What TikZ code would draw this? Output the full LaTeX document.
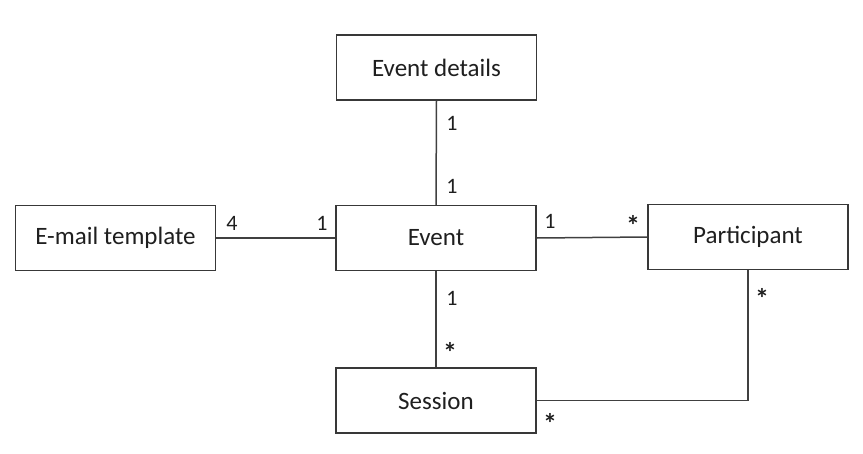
\documentclass[tikz,border=0pt]{standalone}
\usepackage{fontspec}
\setmainfont{Carlito}
\begin{document}
\begin{tikzpicture}[x=1pt,y=-1pt,
  cls/.style={draw=black!78, line width=1.4pt, fill=white, minimum width=200pt, minimum height=65pt, inner sep=0pt, font=\fontsize{25}{29}\selectfont, text=black!88},
  conn/.style={draw=black!75, line width=1.5pt},
  mult/.style={anchor=base, inner sep=0pt, font=\fontsize{22}{26}\selectfont, text=black!88},
  star/.style={anchor=base, inner sep=0pt, font=\fontsize{28}{32}\bfseries\selectfont, text=black!88}]
\useasboundingbox (0,0) rectangle (863,453);
\node[cls] (details) at (436.5,67.5) {Event details};
\node[cls] (email) at (115.5,238) {E-mail template};
\node[cls] (event) at (436,238) {Event};
\node[cls] (part) at (748,237) {Participant};
\node[cls] (session) at (436,400.5) {Session};
\coordinate (corner) at (748,400.5);
\draw[conn] (details.south) -- (event.north);
\draw[conn] (email.east) -- (event.west);
\draw[conn] (event.east) -- (part.west);
\draw[conn] (event.south) -- (session.north);
\draw[conn] (session.east) -- (corner) -- (part.south);
\node[mult] (m1) at (452,130.5) {1};
\node[mult] (m2) at (452,193) {1};
\node[mult] (m3) at (232,230) {4};
\node[mult] (m4) at (322,230) {1};
\node[mult] (m5) at (550,228) {1};
\node[star] (m6) at (633,235) {*};
\node[mult] (m7) at (452,305) {1};
\node[star] (m8) at (450,362.5) {*};
\node[star] (m9) at (762,308) {*};
\node[star] (m10) at (550,433) {*};
\end{tikzpicture}
\end{document}
